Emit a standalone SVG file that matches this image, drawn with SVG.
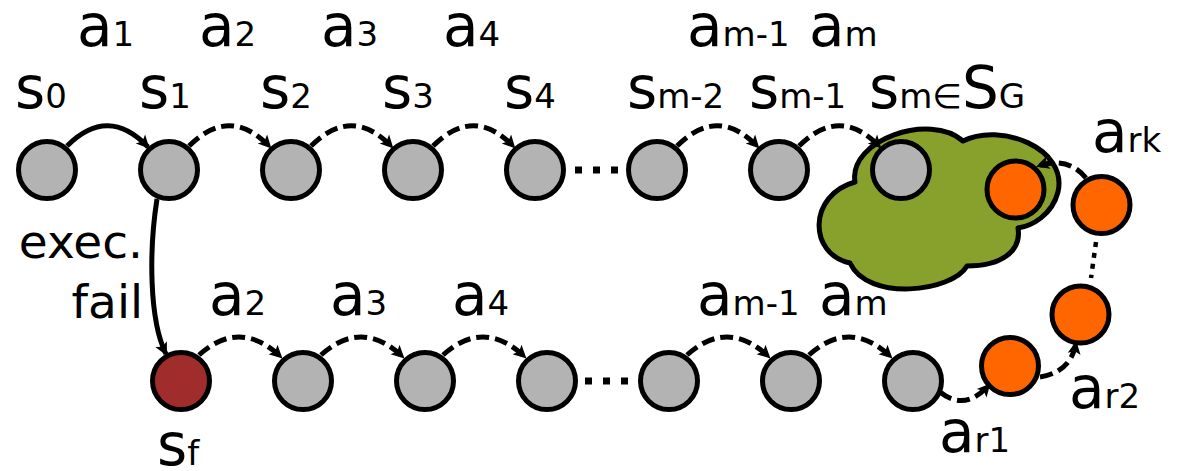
<svg xmlns="http://www.w3.org/2000/svg" width="1182" height="471" viewBox="0 0 1182 471">
  <style>
    text { font-family: "DejaVu Sans", "Liberation Sans", sans-serif; font-size: 58px; fill: #000; }
    .sub { font-size: 34px; }
    .lbl { font-size: 47px; }
    .state { stroke: #000; stroke-width: 5; fill: #b3b3b3; }
    .fail { fill: #a02c2c; }
    .rec { fill: #ff6600; }
    .goal { fill: #88a02c; stroke: #000; stroke-width: 5; stroke-linejoin: round; }
    .edge { fill: none; stroke: #000; stroke-width: 5; marker-end: url(#arrow); }
    .dash { stroke-dasharray: 13 6; }
    .dots { fill: none; stroke: #000; stroke-width: 7; stroke-dasharray: 7 11; }
    .vdots { fill: none; stroke: #000; stroke-width: 4.5; stroke-dasharray: 5 6; }
  </style>
  <defs>
    <marker id="arrow" viewBox="-16 -10 20 20" refX="0" refY="0" markerWidth="20" markerHeight="20" markerUnits="userSpaceOnUse" orient="auto" overflow="visible">
      <path d="M 2 0 L -11 -6.5 L -8 0 L -11 6.5 Z" fill="#000"/>
    </marker>
  </defs>

  <!-- goal region -->
  <g id="goal-region">
    <path class="goal" d="M 855 182 C 848 140, 930 112, 963 141 C 1000 122, 1068 148, 1058 192 C 1052 215, 1032 226, 1018 228 C 1022 252, 1000 266, 967 266 C 952 292, 868 302, 850 263 C 808 254, 808 195, 855 182 Z"/>
  </g>

  <!-- transitions -->
  <g id="connectors">
    <!-- planned run -->
    <path class="edge" d="M 67 146 Q 108 105 148 147"/>
    <path class="edge dash" d="M 189 146 Q 230 105 270 147"/>
    <path class="edge dash" d="M 311 146 Q 352 105 392 147"/>
    <path class="edge dash" d="M 433 146 Q 474 105 514 147"/>
    <path class="edge dash" d="M 677 146 Q 718 105 758 147"/>
    <path class="edge dash" d="M 799 146 Q 840 105 880 147"/>
    <path class="dots" d="M 575 170 L 625 170"/>
    <!-- execution failure -->
    <path class="edge" d="M 157 199 C 149 250, 149 320, 166 354"/>
    <!-- replayed run from the failure state -->
    <path class="edge dash" d="M 199 355 Q 240 318 281 357"/>
    <path class="edge dash" d="M 321 355 Q 362 318 403 357"/>
    <path class="edge dash" d="M 443 355 Q 484 318 525 357"/>
    <path class="edge dash" d="M 687 355 Q 728 318 769 357"/>
    <path class="edge dash" d="M 809 355 Q 850 318 891 357"/>
    <path class="dots" d="M 585 381 L 635 381"/>
    <!-- recovery actions -->
    <path class="edge dash" d="M 940 392 Q 965 412 989 385"/>
    <path class="edge dash" d="M 1040 377 Q 1071 372 1076 343"/>
    <path class="vdots" d="M 1096 242 L 1091 278"/>
    <path class="edge dash" d="M 1086 178 Q 1068 156 1038 166"/>
  </g>

  <!-- planned states -->
  <g id="s0"><circle class="state" cx="47" cy="170" r="28.5"/><text x="15" y="108">s<tspan class="sub">0</tspan></text></g>
  <g id="s1"><circle class="state" cx="169" cy="170" r="28.5"/><text x="139" y="108">s<tspan class="sub">1</tspan></text></g>
  <g id="s2"><circle class="state" cx="291" cy="170" r="28.5"/><text x="260" y="108">s<tspan class="sub">2</tspan></text></g>
  <g id="s3"><circle class="state" cx="413" cy="170" r="28.5"/><text x="382" y="108">s<tspan class="sub">3</tspan></text></g>
  <g id="s4"><circle class="state" cx="535" cy="170" r="28.5"/><text x="504" y="108">s<tspan class="sub">4</tspan></text></g>
  <g id="s-m-2"><circle class="state" cx="657" cy="170" r="28.5"/><text x="627" y="108">s<tspan class="sub">m-2</tspan></text></g>
  <g id="s-m-1"><circle class="state" cx="779" cy="170" r="28.5"/><text x="749" y="108">s<tspan class="sub">m-1</tspan></text></g>
  <g id="s-m"><circle class="state" cx="901" cy="170" r="28.5"/><text x="869" y="108">s<tspan class="sub">m∈</tspan>S<tspan class="sub">G</tspan></text></g>

  <!-- replayed states -->
  <g id="s-f"><circle class="state fail" cx="181" cy="381" r="28.5"/><text x="157" y="465">s<tspan class="sub">f</tspan></text></g>
  <g id="f2"><circle class="state" cx="303" cy="381" r="28.5"/></g>
  <g id="f3"><circle class="state" cx="425" cy="381" r="28.5"/></g>
  <g id="f4"><circle class="state" cx="547" cy="381" r="28.5"/></g>
  <g id="f-m-2"><circle class="state" cx="669" cy="381" r="28.5"/></g>
  <g id="f-m-1"><circle class="state" cx="791" cy="381" r="28.5"/></g>
  <g id="f-m"><circle class="state" cx="913" cy="381" r="28.5"/></g>

  <!-- recovery states -->
  <g id="r1"><circle class="state rec" cx="1010" cy="366" r="28.5"/></g>
  <g id="r2"><circle class="state rec" cx="1080.5" cy="314.5" r="28.5"/></g>
  <g id="r-k-1"><circle class="state rec" cx="1101.5" cy="205" r="28.5"/></g>
  <g id="r-k"><circle class="state rec" cx="1015.5" cy="189.5" r="28.5"/></g>

  <!-- action labels -->
  <g id="labels">
    <text x="77" y="46">a<tspan class="sub">1</tspan></text>
    <text x="199" y="46">a<tspan class="sub">2</tspan></text>
    <text x="321" y="46">a<tspan class="sub">3</tspan></text>
    <text x="443" y="46">a<tspan class="sub">4</tspan></text>
    <text x="687" y="46">a<tspan class="sub">m-1</tspan></text>
    <text x="809" y="46">a<tspan class="sub">m</tspan></text>

    <text x="209" y="315">a<tspan class="sub">2</tspan></text>
    <text x="330" y="315">a<tspan class="sub">3</tspan></text>
    <text x="452" y="315">a<tspan class="sub">4</tspan></text>
    <text x="697" y="315">a<tspan class="sub">m-1</tspan></text>
    <text x="819" y="315">a<tspan class="sub">m</tspan></text>

    <text x="939" y="452">a<tspan class="sub">r1</tspan></text>
    <text x="1069" y="408">a<tspan class="sub">r2</tspan></text>
    <text x="1092" y="152">a<tspan class="sub">rk</tspan></text>

    <text class="lbl" x="143" y="258" text-anchor="end">exec.</text>
    <text class="lbl" x="143" y="318" text-anchor="end">fail</text>
  </g>
</svg>
